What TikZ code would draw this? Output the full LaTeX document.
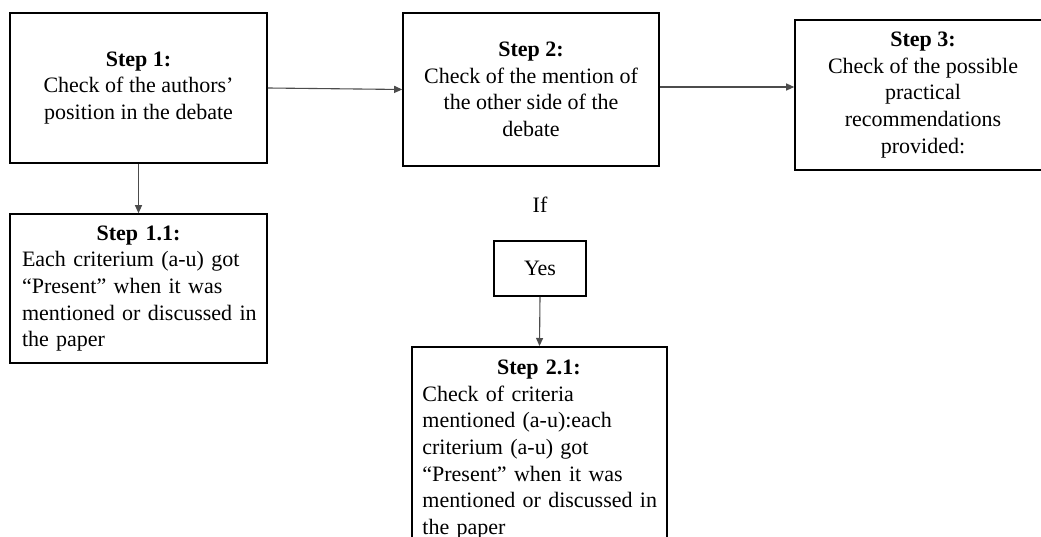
\documentclass[tikz,border=0pt]{standalone}
\usepackage{fontspec}
\setmainfont{Liberation Serif}
\usetikzlibrary{arrows.meta}
\begin{document}
\begin{tikzpicture}[x=1pt,y=-1pt,
  box/.style={draw=black, line width=1.6pt, inner sep=0pt, align=center,
    font=\fontsize{22}{26.6}\selectfont},
  plain/.style={inner sep=0pt, align=left, text width=234pt,
    font=\fontsize{22}{26.6}\selectfont},
  conn/.style={draw=black!70, line width=1.1pt, -{Triangle[length=8pt,width=7pt]}}]
\clip (0,0) rectangle (1041,537);
\fill[white] (0,0) rectangle (1041,537);
\node[box, minimum width=257pt, minimum height=150pt] (s1) at (138.5,88)
  {\textbf{Step 1:}\\Check of the authors’\\position in the debate};
\node[box, minimum width=256pt, minimum height=153pt] (s2) at (531,89.5)
  {\textbf{Step 2:}\\Check of the mention of\\the other side of the\\debate};
\node[box, minimum width=256pt, minimum height=150pt] (s3) at (923,95)
  {\textbf{Step 3:}\\Check of the possible\\practical\\recommendations\\provided:};
\node[box, minimum width=257pt, minimum height=149pt, text width=233pt, align=left] (s11) at (138.5,288.5)
  {\makebox[\linewidth][c]{\textbf{Step 1.1:}}\\\mbox{Each criterium (a-u) got}\\\mbox{“Present” when it was}\\\mbox{mentioned or discussed in}\\\mbox{the paper}};
\node[font=\fontsize{22}{26.6}\selectfont, inner sep=0pt] (if) at (540,205) {If};
\node[box, minimum width=92pt, minimum height=55pt] (yes) at (540,268.5) {Yes};
\node[draw=black, line width=1.6pt, minimum width=255pt, minimum height=240pt, inner sep=0pt, anchor=north] (s21) at (539.5,346) {};
\node[plain, text width=233pt, anchor=north west] (t21) at ([xshift=11pt,yshift=-14pt]s21.north west)
  {\makebox[\linewidth][c]{\textbf{Step 2.1:}}\\\mbox{Check of criteria}\\\mbox{mentioned (a-u):each}\\\mbox{criterium (a-u) got}\\\mbox{“Present” when it was}\\\mbox{mentioned or discussed in}\\\mbox{the paper}};
\draw[conn] (s1.east) -- (s2.west);
\draw[conn] ([yshift=2.5pt]s2.east) -- ([yshift=2.5pt]s2.east -| s3.west);
\draw[conn] (s1.south) -- (s11.north);
\draw[conn] (yes.south) -- (s21.north);
\end{tikzpicture}
\end{document}
